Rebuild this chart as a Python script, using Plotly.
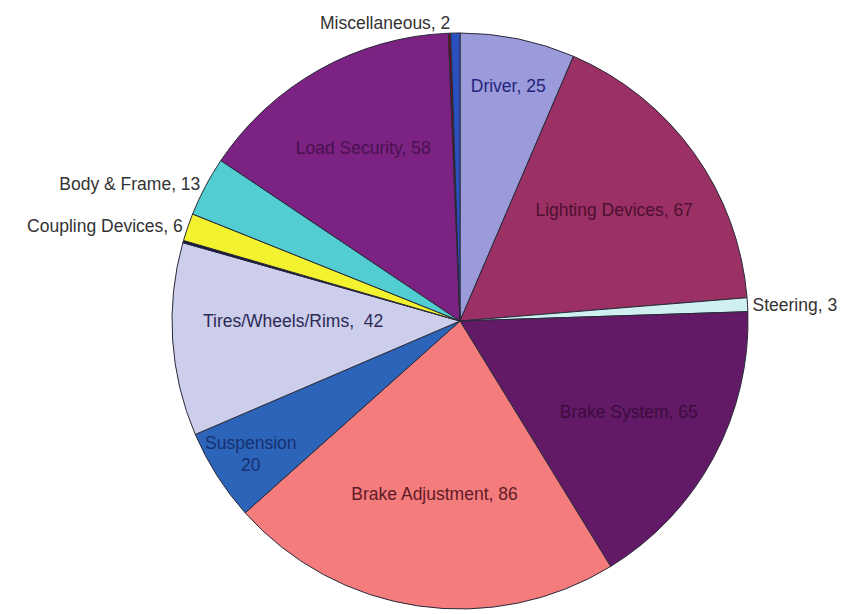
import plotly.graph_objects as go

categories = ["Driver", "Lighting Devices", "Steering", "Brake System", "Brake Adjustment",
              "Suspension", "Tires/Wheels/Rims", "(unlabeled 1)", "Coupling Devices",
              "Body & Frame", "Load Security", "(unlabeled 2)", "Miscellaneous"]
values = [25, 67, 3, 65, 86, 20, 42, 0.5, 6, 13, 58, 0.5, 2]
label_text = ["Driver, 25", "Lighting Devices, 67", "Steering, 3", "Brake System, 65",
              "Brake Adjustment, 86", "Suspension<br>20", "Tires/Wheels/Rims,  42", "",
              "Coupling Devices, 6", "Body & Frame, 13", "Load Security, 58", "", "Miscellaneous, 2"]
text_pos = ["inside", "inside", "outside", "inside", "inside", "inside", "inside", "none",
            "outside", "outside", "inside", "none", "outside"]
colors = ["#9B9BDB", "#9A3064", "#CFEFF1", "#621A66", "#F47C7C", "#2B64B9", "#CDCDEC",
          "#101040", "#F2F22E", "#52CED2", "#7B2282", "#7A0A1A", "#2A50C0"]
text_colors = ["#23237A", "#4E0F30", "#3A3A3A", "#3C0C40", "#601A28", "#17306E", "#2A2A55",
               "#000000", "#3A3A3A", "#3A3A3A", "#4A1050", "#000000", "#3A3A3A"]

cx, r = 452, 289

fig = go.Figure(go.Pie(
    labels=categories,
    values=values,
    text=label_text,
    textinfo="text",
    textposition=text_pos,
    insidetextorientation="horizontal",
    sort=False,
    direction="clockwise",
    rotation=0,
    marker=dict(colors=colors, line=dict(color="#2A2A3A", width=1)),
    textfont=dict(family="Liberation Sans, Arial, sans-serif", size=18, color=text_colors),
    outsidetextfont=dict(family="Liberation Sans, Arial, sans-serif", size=17.5, color="#333333"),
    domain=dict(x=[(cx - r) / 846, (cx + r) / 846], y=[0, 1]),
    showlegend=False,
    hoverinfo="label+value",
))

fig.update_layout(
    width=846, height=614,
    margin=dict(l=0, r=0, t=23, b=13),
    paper_bgcolor="white",
    plot_bgcolor="white",
    uniformtext=dict(minsize=17, mode="show"),
)

fig.write_html("out.html")
